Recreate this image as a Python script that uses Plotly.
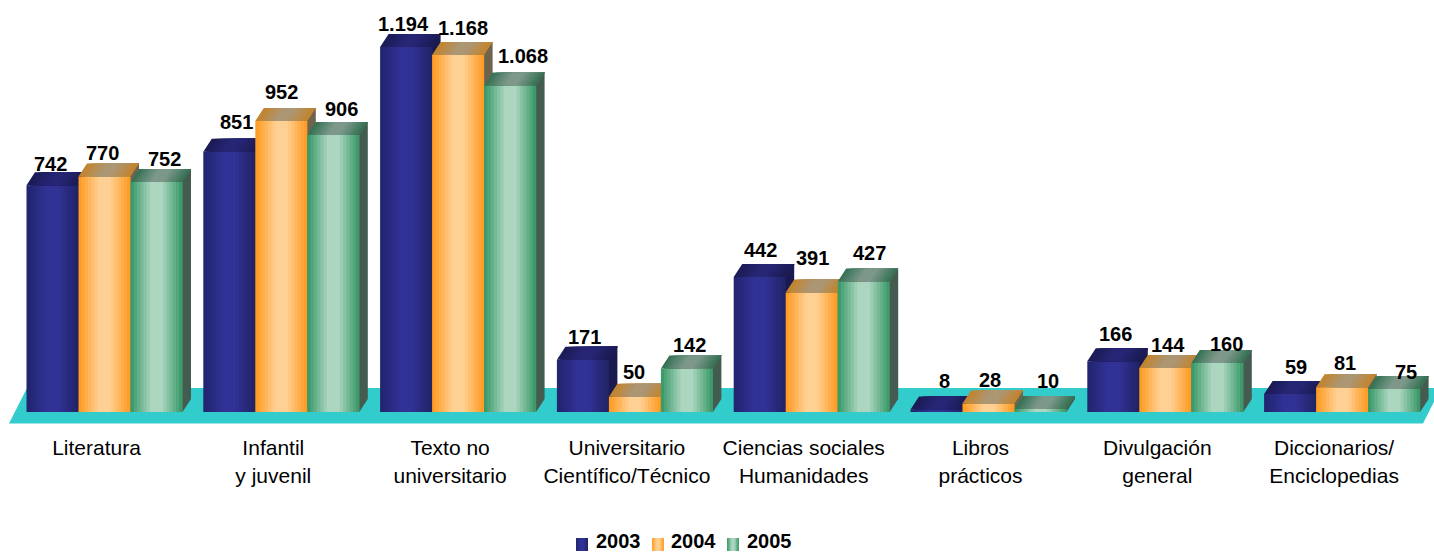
import plotly.graph_objects as go

categories = ["Literatura", "Infantil<br>y juvenil", "Texto no<br>universitario",
              "Universitario<br>Científico/Técnico", "Ciencias sociales<br>Humanidades",
              "Libros<br>prácticos", "Divulgación<br>general", "Diccionarios/<br>Enciclopedias"]
years = ["2003", "2004", "2005"]
v2003 = [742, 851, 1194, 171, 442, 8, 166, 59]
v2004 = [770, 952, 1168, 50, 391, 28, 144, 81]
v2005 = [752, 906, 1068, 142, 427, 10, 160, 75]
labels2003 = ["742", "851", "1.194", "171", "442", "8", "166", "59"]
labels2004 = ["770", "952", "1.168", "50", "391", "28", "144", "81"]
labels2005 = ["752", "906", "1.068", "142", "427", "10", "160", "75"]
series = [v2003, v2004, v2005]
labels = [labels2003, labels2004, labels2005]

# hand-placed label nudges (px from bar top centre)
nudge_x = [[-2, 7, -3, 2, 1, 8, 2, 6], [-2, 0, 5, -1, 1, 1, 3, 3], [8, 8, 13, 3, 6, 7, 9, 12]]
nudge_y = [[21, 30, 23, 23, 27, 29, 27, 27], [24, 29, 27, 25, 34, 23, 23, 24], [23, 26, 30, 24, 28, 28, 19, 17]]

FONT = "Liberation Sans"
PX_X, PX_V = 176.8, 0.3057          # px per group, px per unit
X0_PX, BASE_PX = 104.5, 412
PLOT_BOTTOM = 428
DX, DY = 8.5 / PX_X, 13 / PX_V
BAR = 52 / PX_X

# colour ramps: edge → centre → edge of each face
front = [[(33, 36, 108), (49, 50, 150), (49, 50, 150), (33, 35, 100)],
         [(255, 153, 30), (255, 208, 148), (255, 208, 148), (255, 153, 30)],
         [(52, 150, 100), (172, 214, 192), (172, 214, 192), (52, 150, 100)]]
top = [[(26, 26, 84), (38, 38, 116), (38, 38, 116), (26, 26, 84)],
       [(196, 130, 40), (172, 150, 115), (172, 150, 115), (196, 130, 40)],
       [(50, 112, 82), (125, 152, 138), (125, 152, 138), (50, 112, 82)]]
side = ["rgb(26,26,80)", "rgb(110,100,78)", "rgb(68,92,80)"]
N = 16
STOPS = [0, 0.4, 0.6, 1]


def ramp(stops, t):
    for i in range(3):
        if t <= STOPS[i + 1]:
            f = (t - STOPS[i]) / (STOPS[i + 1] - STOPS[i])
            c = [round(a + (b - a) * f) for a, b in zip(stops[i], stops[i + 1])]
            return f"rgb({c[0]},{c[1]},{c[2]})"
    return f"rgb{stops[-1]}"


fig = go.Figure()
xs = list(range(len(categories)))
for s, vals in enumerate(series):
    z = s * 2
    for k in range(N):
        t = (k + 0.5) / N
        # each slice runs to the bar's right edge; the next slice paints over it (no seams)
        fig.add_bar(x=xs, y=vals, width=(N - k) * BAR / N, offset=(s - 1.5) * BAR + k * BAR / N,
                    marker=dict(color=ramp(front[s], t), line_width=0),
                    showlegend=False, hoverinfo="skip", zorder=z, name=years[s])
    for k in range(N):
        t = (k + 0.5) / N
        px_, py_ = [], []
        for i, v in zip(xs, vals):
            l = i + (s - 1.5) * BAR + k * BAR / N
            r = i + (s - 0.5) * BAR
            px_ += [l, r, r + DX, l + DX, l, None]
            py_ += [v, v, v + DY, v + DY, v, None]
        fig.add_scatter(x=px_, y=py_, mode="lines", line_width=0, fill="toself",
                        fillcolor=ramp(top[s], t), showlegend=False, hoverinfo="skip", zorder=z + 1)
    px_, py_ = [], []
    for i, v in zip(xs, vals):
        r = i + (s - 0.5) * BAR
        px_ += [r, r + DX, r + DX, r, r, None]
        py_ += [0, DY, v + DY, v, 0, None]
    fig.add_scatter(x=px_, y=py_, mode="lines", line_width=0, fill="toself",
                    fillcolor=side[s], showlegend=False, hoverinfo="skip", zorder=z + 1)

x_of = lambda px: (px - X0_PX) / PX_X
y_of = lambda py: (BASE_PX - py) / PX_V

shapes = [dict(type="path", layer="below", xref="x", yref="y", line_width=0, fillcolor="rgb(51,204,204)",
               path=(f"M{x_of(9)},{y_of(423.5)} L{x_of(1423)},{y_of(423.5)} L{x_of(1441)},{y_of(388)} "
                     f"L{x_of(27)},{y_of(388)} Z"))]
annotations = []
for s, vals in enumerate(series):
    for i, v in enumerate(vals):
        annotations.append(dict(x=i + (s - 1) * BAR, y=v, text=labels[s][i], showarrow=False,
                                xanchor="center", yanchor="middle",
                                xshift=nudge_x[s][i], yshift=nudge_y[s][i],
                                font=dict(family=FONT, size=20, color="black", weight="bold")))

# legend
for year, sw_x, txt_x, st in zip(years, [576, 652, 727], [618, 693, 769], front):
    for k in range(8):
        x0 = sw_x + k * 12 / 8
        shapes.append(dict(type="rect", xref="paper", yref="paper", line_width=0,
                           x0=x0 / 1434, x1=(sw_x + 12) / 1434,
                           y0=(PLOT_BOTTOM - 551) / PLOT_BOTTOM, y1=(PLOT_BOTTOM - 538) / PLOT_BOTTOM,
                           fillcolor=ramp(st, (k + 0.5) / 8)))
    annotations.append(dict(xref="paper", yref="paper", x=txt_x / 1434, y=(PLOT_BOTTOM - 540.5) / PLOT_BOTTOM,
                            text=year, showarrow=False, xanchor="center", yanchor="middle",
                            font=dict(family=FONT, size=20, color="black", weight="bold")))

fig.update_layout(
    width=1434, height=552, margin=dict(l=0, r=0, t=0, b=552 - PLOT_BOTTOM, pad=0),
    paper_bgcolor="white", plot_bgcolor="rgba(0,0,0,0)", barmode="overlay", showlegend=False,
    shapes=shapes, annotations=annotations,
    xaxis=dict(range=[x_of(0), x_of(1434)], tickmode="array",
               tickvals=[i - 8 / PX_X for i in xs], ticktext=categories, ticks="outside", ticklen=1,
               tickcolor="rgba(0,0,0,0)", showline=False, showgrid=False, zeroline=False,
               tickfont=dict(family=FONT, size=21, color="black")),
    yaxis=dict(range=[y_of(PLOT_BOTTOM), y_of(0)], visible=False, showgrid=False, zeroline=False),
)
fig.write_html("out.html", post_script="document.body.style.margin='0';", config={"displayModeBar": False})
